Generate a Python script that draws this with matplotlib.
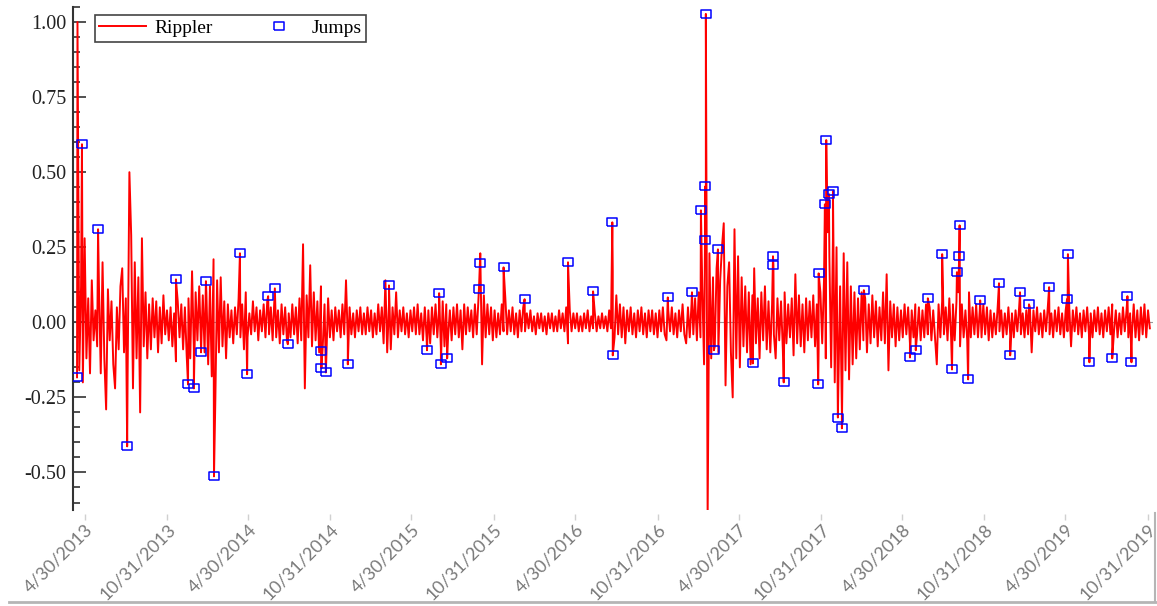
import numpy as np
import pandas as pd
import matplotlib
matplotlib.use("Agg")
import matplotlib.pyplot as plt
from matplotlib.lines import Line2D
from matplotlib.ticker import MultipleLocator, FormatStrFormatter

plt.rcParams['axes.unicode_minus'] = False

# Rippler returns, one value every 4 days from 2013-04-14
rippler_2013 = [1.00, -0.16, 0.12, -0.20, 0.28, -0.12, 0.08, -0.17, 0.14, -0.06,
                0.04, -0.08, 0.12, -0.17, 0.20, -0.12, -0.29, 0.11, -0.06, 0.07,
                -0.14, -0.22, 0.05, -0.09, 0.12, 0.18, -0.10, 0.08, -0.18, 0.50,
                0.29, -0.22, 0.20, -0.12, 0.15, -0.30, 0.28, -0.08, 0.10, -0.12,
                0.06, -0.09, 0.08, -0.05, 0.07, -0.10, 0.05, -0.07, 0.09, -0.04,
                0.04, -0.06, 0.05, -0.08, 0.03, -0.13, 0.07, -0.05, 0.06, -0.09,
                0.05, -0.11, 0.08, -0.12, 0.17, -0.09]
rippler_2014 = [0.10, -0.06, 0.12, -0.08,
                0.09, -0.10, 0.10, -0.14, 0.12, -0.18, 0.21, -0.26, 0.14, -0.10,
                0.15, -0.08, 0.07, -0.12, 0.06, -0.05, 0.04, -0.07, 0.05, -0.04,
                0.08, -0.05, 0.06, -0.09, 0.10, -0.05, 0.03, -0.04, 0.07, -0.03,
                0.05, -0.06, 0.04, -0.03, 0.06, -0.05, 0.07, -0.04, 0.05, -0.06,
                0.08, -0.05, 0.04, -0.07, 0.06, -0.04, 0.05, -0.06, 0.03, -0.05,
                0.06, -0.04, 0.05, -0.07, 0.08, -0.06, 0.26, -0.22, 0.09, -0.05,
                0.19, -0.08, 0.10, -0.06, 0.07, -0.10, 0.12, -0.08, 0.06, -0.12,
                0.08, -0.05, 0.04, -0.06, 0.05, -0.03, 0.04, -0.05, 0.06, -0.04,
                0.14, -0.06, 0.05, -0.04, 0.03, -0.05, 0.04]
rippler_2015 = [-0.03, 0.05, -0.04,
                0.03, -0.04, 0.05, -0.03, 0.04, -0.05, 0.03, -0.04, 0.06, -0.03,
                0.05, -0.07, 0.14, -0.10, 0.06, -0.09, 0.05, -0.04, 0.10, -0.05,
                0.04, -0.03, 0.05, -0.04, 0.03, -0.05, 0.04, -0.03, 0.05, -0.04,
                0.06, -0.04, 0.03, -0.06, 0.05, -0.05, 0.04, -0.07, 0.05, -0.04,
                0.06, -0.05, 0.05, -0.09, 0.07, -0.08, 0.06, -0.05, 0.04, -0.06,
                0.05, -0.04, 0.06, -0.05, 0.04, -0.09, 0.06, -0.04, 0.05, -0.03,
                0.04, -0.05, 0.06, -0.04, 0.08, 0.23, -0.14, 0.09, -0.05, 0.06,
                -0.04, 0.05, -0.06, 0.04, -0.05, 0.03, -0.04, 0.06, -0.03, 0.08,
                -0.04, 0.04, -0.03, 0.05, -0.04, 0.03, -0.05, 0.04]
rippler_2016 = [-0.03, 0.05,
                -0.03, 0.03, -0.02, 0.04, -0.03, 0.02, -0.04, 0.03, -0.02, 0.03,
                -0.03, 0.02, -0.04, 0.03, -0.02, 0.03, -0.03, 0.02, -0.03, 0.04,
                -0.02, 0.03, -0.03, 0.05, -0.07, 0.04, -0.03, 0.03, -0.02, 0.03,
                -0.03, 0.02, -0.03, 0.03, -0.02, 0.04, -0.03, 0.02, -0.02, 0.03,
                -0.03, 0.02, -0.02, 0.03, -0.02, 0.02, -0.03, 0.04, -0.02, 0.17,
                -0.05, 0.09, -0.04, 0.06, -0.05, 0.05, -0.07, 0.04, -0.03, 0.05,
                -0.04, 0.03, -0.05, 0.04, -0.03, 0.05, -0.04, 0.03, -0.05, 0.04,
                -0.03, 0.04, -0.04, 0.03, -0.05, 0.04, -0.03, 0.05, -0.04, -0.06,
                0.04, -0.03, 0.05, -0.04, 0.03, -0.05, 0.04, -0.03, 0.06, -0.04]
rippler_2017 = [-0.07, 0.05, -0.05, 0.06, -0.04, 0.08, -0.06, 0.10, -0.05, 0.12,
                -0.14, 0.20, -0.65, 0.23, -0.12, 0.15, -0.08, 0.18, -0.10, 0.14,
                0.25, 0.33, -0.21, 0.12, 0.20, -0.10, -0.25, 0.31, -0.12, 0.22,
                -0.15, 0.15, -0.08, 0.12, -0.10, 0.10, -0.14, 0.09, 0.18, -0.07,
                0.08, -0.12, 0.10, -0.06, 0.12, -0.09, 0.07, -0.10, 0.06, -0.04,
                -0.12, 0.08, -0.06, 0.07, -0.09, 0.10, -0.07, 0.06, -0.05, 0.08,
                -0.11, 0.16, -0.07, 0.09, -0.08, 0.06, -0.10, 0.08, -0.06, 0.07,
                -0.05, 0.09, -0.08, 0.06, -0.09, 0.10, -0.07, 0.14, -0.12, 0.30,
                0.22, -0.15, 0.28, -0.20, 0.25, -0.22, 0.12, -0.30, 0.23, -0.16,
                0.20]
rippler_2018 = [-0.19, 0.12, -0.14, 0.10, -0.12, 0.08, -0.09, 0.10, -0.06,
                0.08, -0.10, 0.06, -0.07, 0.09, -0.05, 0.07, -0.08, 0.05, -0.06,
                0.10, -0.07, 0.16, -0.16, 0.07, -0.05, 0.06, -0.08, 0.05, -0.06,
                0.04, -0.05, 0.06, -0.04, 0.05, -0.07, 0.04, -0.05, 0.06, -0.04,
                0.05, -0.06, 0.04, -0.05, 0.06, -0.04, 0.05, -0.06, 0.04, -0.05,
                -0.14, 0.06, -0.05, 0.07, -0.04, 0.05, -0.06, 0.08, -0.05, 0.06,
                -0.06, 0.07, 0.10, -0.08, 0.06, -0.05, 0.04, -0.06, 0.10, -0.05,
                0.05, -0.04, 0.06, -0.05, 0.04, -0.05, 0.06, -0.04, 0.05, -0.06,
                0.04, -0.05, 0.03, -0.04, 0.05, -0.03, 0.04, -0.05, 0.03, -0.04,
                0.05, -0.04]
rippler_2019 = [0.03, -0.05, 0.04, -0.03, 0.05, -0.04, 0.03, -0.05,
                0.04, -0.04, 0.05, -0.10, 0.04, -0.03, 0.05, -0.04, 0.03, -0.05,
                0.04, -0.03, 0.05, -0.04, 0.03, -0.05, 0.04, -0.03, 0.05, -0.04,
                0.03, -0.05, 0.04, -0.03, 0.05, -0.08, 0.04, -0.03, 0.05, -0.04,
                0.03, -0.05, 0.04, -0.03, 0.05, -0.04, 0.03, -0.05, 0.04, -0.03,
                0.05, -0.04, 0.03, -0.05, 0.04, -0.03, 0.05, -0.04, 0.06, -0.03,
                0.04, -0.05, 0.03, -0.04, 0.05, -0.03, 0.04, -0.05, 0.03, -0.04,
                0.06, -0.05, 0.04, -0.06, 0.05, -0.04, 0.06, -0.05, 0.04, -0.02]

# detected jumps
jump_dates = ['2013-04-13', '2013-04-24', '2013-05-30', '2013-08-03', '2013-11-20',
              '2013-12-17', '2013-12-30', '2014-01-15', '2014-01-26', '2014-02-13',
              '2014-04-12', '2014-04-28', '2014-06-14', '2014-06-29', '2014-07-28',
              '2014-10-10', '2014-10-11', '2014-10-21', '2014-12-09', '2015-03-11',
              '2015-06-04', '2015-07-01', '2015-07-05', '2015-07-19', '2015-09-28',
              '2015-09-30', '2015-11-22', '2016-01-08', '2016-04-14', '2016-06-09',
              '2016-07-22', '2016-07-23', '2016-11-23', '2017-01-16', '2017-02-05',
              '2017-02-14', '2017-02-15', '2017-02-16', '2017-03-06', '2017-03-15',
              '2017-06-01', '2017-07-16', '2017-07-17', '2017-08-09', '2017-10-25',
              '2017-10-26', '2017-11-09', '2017-11-12', '2017-11-18', '2017-11-27',
              '2017-12-08', '2017-12-17', '2018-02-04', '2018-05-18', '2018-05-31',
              '2018-06-27', '2018-07-29', '2018-08-20', '2018-08-31', '2018-09-05',
              '2018-09-06', '2018-09-25', '2018-10-22', '2018-12-03', '2018-12-28',
              '2019-01-19', '2019-02-08', '2019-03-25', '2019-05-04', '2019-05-06',
              '2019-06-23', '2019-08-13', '2019-09-16', '2019-09-25']
jump_values = [-0.183, 0.593, 0.310, -0.413, 0.143,
               -0.207, -0.220, -0.100, 0.137, -0.513,
               0.230, -0.173, 0.087, 0.113, -0.073,
               -0.097, -0.153, -0.167, -0.140, 0.123,
               -0.093, 0.097, -0.140, -0.120, 0.110,
               0.197, 0.183, 0.077, 0.200, 0.103,
               0.333, -0.110, 0.083, 0.100, 0.373,
               0.273, 0.453, 1.027, -0.093, 0.243,
               -0.137, 0.220, 0.190, -0.200, -0.207,
               0.163, 0.393, 0.607, 0.427, 0.437,
               -0.317, -0.353, 0.107, -0.117, -0.093,
               0.080, 0.227, -0.157, 0.167, 0.220,
               0.323, -0.190, 0.073, 0.130, -0.110,
               0.100, 0.060, 0.117, 0.077, 0.227,
               -0.133, -0.120, 0.087, -0.133]

tick_dates = ['2013-04-30', '2013-10-31', '2014-04-30', '2014-10-31', '2015-04-30',
              '2015-10-31', '2016-04-30', '2016-10-31', '2017-04-30', '2017-10-31',
              '2018-04-30', '2018-10-31', '2019-04-30', '2019-10-31']
tick_labels = ['4/30/2013', '10/31/2013', '4/30/2014', '10/31/2014', '4/30/2015',
               '10/31/2015', '4/30/2016', '10/31/2016', '4/30/2017', '10/31/2017',
               '4/30/2018', '10/31/2018', '4/30/2019', '10/31/2019']

values = np.concatenate([rippler_2013, rippler_2014, rippler_2015, rippler_2016,
                         rippler_2017, rippler_2018, rippler_2019])
base = pd.Series(values, index=pd.date_range('2013-04-14', periods=len(values), freq='4D'))
jumps = pd.Series(jump_values, index=pd.to_datetime(jump_dates))
rippler = pd.concat([base, jumps]).sort_index(kind='stable')

fig = plt.figure(figsize=(11.57, 6.06), dpi=100)
ax = fig.add_axes([0.0631, 0.1584, 0.9334, 0.830])

# spines first: moving a spine resets the ticks
for s in ['top', 'right', 'bottom']:
    ax.spines[s].set_visible(False)
ax.spines['bottom'].set_position(('outward', 3))
ax.spines['left'].set_color('#333333')
ax.spines['left'].set_linewidth(1.5)

ax.axhline(0, color='#999999', lw=0.8, zorder=1)
ax.plot(rippler.index, rippler.values, color='#ff0000', lw=1.4, zorder=2, label='Rippler')

rect = [(-1, -0.72), (1, -0.72), (1, 0.72), (-1, 0.72), (-1, -0.72)]
ax.plot(jumps.index, jumps.values, ls='none', marker=rect, ms=7.5, mfc='none',
        mec='#0000ff', mew=1.1, zorder=3, label='Jumps')

ax.set_ylim(-0.625, 1.05)
ax.set_xlim(pd.Timestamp('2013-04-04'), pd.Timestamp('2019-11-12'))

ax.yaxis.set_major_locator(MultipleLocator(0.25))
ax.yaxis.set_minor_locator(MultipleLocator(0.05))
ax.yaxis.set_major_formatter(FormatStrFormatter('%.2f'))
ax.tick_params(axis='y', which='major', direction='in', length=9, width=1.2,
               color='#333333', pad=5, labelsize=14.5, labelcolor='#222222')
ax.tick_params(axis='y', which='minor', direction='in', length=5, width=1.2, color='#333333')
ax.tick_params(axis='x', direction='out', length=4, width=1, color='#d0d0d0', pad=1)

ax.set_xticks(pd.to_datetime(tick_dates))
ax.set_xticklabels(tick_labels, family='Lato', fontsize=13, color='#7a7a7a',
                   rotation=45, ha='right', va='top', rotation_mode='anchor')
for lab in ax.get_yticklabels():
    lab.set_family('Liberation Serif')

leg = ax.legend(loc='upper left', bbox_to_anchor=(0.02, 0.985), ncol=2,
                prop={'family': 'Liberation Serif', 'size': 14},
                fancybox=False, framealpha=1, edgecolor='#444444',
                handlelength=2.4, handletextpad=0.45, columnspacing=2.2,
                borderpad=0.25, borderaxespad=0)
leg.get_frame().set_linewidth(1.2)

# outer frame lines of the original screenshot
fig.add_artist(Line2D([0.008, 1.0], [0.006, 0.006], color='#b5b5b5', lw=2))
fig.add_artist(Line2D([0.9985, 0.9985], [0.006, 0.153], color='#b5b5b5', lw=1.5))

fig.savefig('out.png', dpi=100)
